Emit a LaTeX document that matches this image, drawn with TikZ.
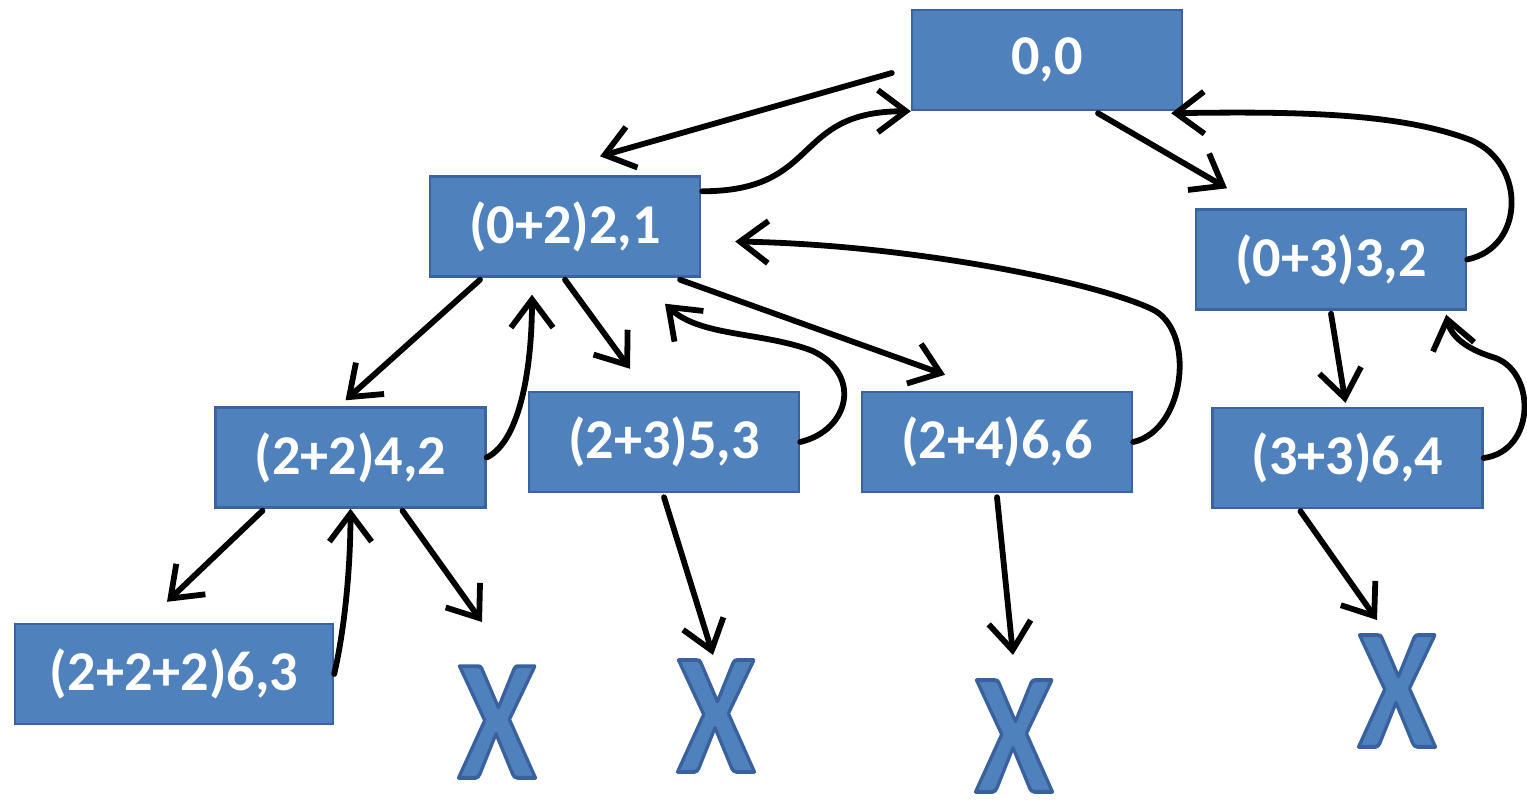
\documentclass[tikz,border=0pt]{standalone}
\usepackage{fontspec}
\setmainfont{Carlito}
\usetikzlibrary{arrows.meta,calc}
\definecolor{boxblue}{HTML}{4F81BD}
\definecolor{boxline}{HTML}{3A64A0}
\newcommand{\deadX}{\special{pdf:literal 0.22 0.38 0.62 RG 2 Tr 2.2 w 1 j}\scalebox{0.82}[1]{X}\special{pdf:literal 0 Tr}}
\begin{document}
\begin{tikzpicture}[x=0.02cm,y=-0.02cm,
  box/.style={draw=boxline,line width=1.4pt,fill=boxblue,text=white,
    font=\fontsize{32}{38}\selectfont\bfseries,
    minimum width=5.4cm,minimum height=2cm,inner sep=0pt},
  cross/.style={text=boxblue,font=\fontsize{98}{100}\selectfont\bfseries,inner sep=0pt},
  arr/.style={-{Straight Barb[length=16pt,width=24pt]},line width=3.3pt,line cap=round}]
  \useasboundingbox (0,0) rectangle (1527,805);

  % boxes
  \node[box] (n00) at (1047,60) {0,0};
  \node[box] (n21) at (565,226.5) {(0+2)2,1};
  \node[box] (n32) at (1331,259.5) {(0+3)3,2};
  \node[box] (n42) at (350.5,457.5) {(2+2)4,2};
  \node[box] (n53) at (664,442) {(2+3)5,3};
  \node[box] (n66) at (997,442) {(2+4)6,6};
  \node[box] (n64) at (1347.5,458) {(3+3)6,4};
  \node[box,minimum width=6.36cm] (n63) at (174,674) {(2+2+2)6,3};

  % dead ends
  \node[cross] (xa) at (497,722) {\deadX};
  \node[cross] (xb) at (716,716) {\deadX};
  \node[cross] (xc) at (1014,736) {\deadX};
  \node[cross] (xd) at (1397,691) {\deadX};

  % going down
  \draw[arr] ($(n00.west)+(-19,13)$) -- ($(n21.north)+(35,-19)$);
  \draw[arr] ($(n00.south)+(51,2)$) -- ($(n32.north)+(-104,-20)$);
  \draw[arr] ($(n21.south)+(-85,2)$) -- ($(n42.north)+(-5,-6)$);
  \draw[arr] ($(n21.south)+(0,2)$) -- ($(n53.north)+(-34,-22)$);
  \draw[arr] ($(n21.south)+(115,2)$) -- ($(n66.north)+(-52,-16)$);
  \draw[arr] ($(n32.south)+(0,3)$) -- ($(n64.north)+(-2,-4)$);
  \draw[arr] ($(n42.south)+(-88,2)$) -- ($(n63.north)+(-7,-21)$);
  \draw[arr] ($(n42.south)+(52,2)$) -- ($(xa)+(-15,-100)$);
  \draw[arr] ($(n53.south)+(0,4)$) -- ($(xb)+(-3,-61)$);
  \draw[arr] ($(n66.south)+(0,4)$) -- ($(xc)+(-1,-81)$);
  \draw[arr] ($(n64.south)+(-47,2)$) -- ($(xd)+(-20,-71)$);

  % going back up
  \draw[arr] ($(n21.north east)+(1,16)$) .. controls +(120,0) and +(-120,0) .. (n00.south west);
  \draw[arr] (n32.east) .. controls +(58,-12) and +(55,23) .. ($(n32.north east)+(4,-68)$)
    .. controls +(-70,-27) and +(130,-2) .. ($(n00.south east)+(-12,2)$);
  \draw[arr] (n42.east) .. controls +(35,-17) and +(0,67) .. ($(n21.south)+(-33,17)$);
  \draw[arr] (n63.east) .. controls +(12,-52) and +(0,50) .. (n42.south);
  \draw[arr] (n53.east) .. controls +(50,-12) and +(50,23) .. ($(n53.north east)+(12,-40)$)
    .. controls +(-50,-19) and +(35,33) .. ($(n21.south)+(100,26)$);
  \draw[arr] (n66.east) .. controls +(53,-12) and +(45,20) .. ($(n66.north east)+(18,-82)$)
    .. controls +(-60,-28) and +(170,3) .. ($(n21.east)+(34,15)$);
  \draw[arr] (n64.east) .. controls +(53,-7) and +(45,12) .. ($(n64.north east)+(8,-50)$)
    .. controls +(-25,-8) and +(5,22) .. ($(n32.south east)+(-21,4)$);
\end{tikzpicture}
\end{document}
